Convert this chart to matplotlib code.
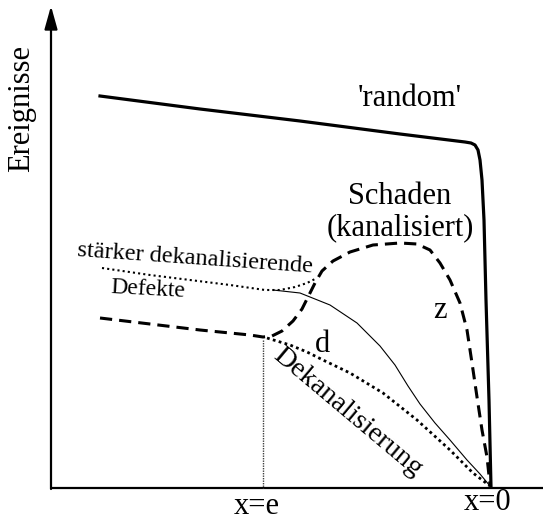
import matplotlib.pyplot as plt

plt.rcParams['font.family'] = ['Liberation Serif', 'DejaVu Serif']

# Kurven in Bildkoordinaten (x nach rechts, y nach unten), x=0 liegt bei 490
random_x = [100, 200, 300, 400, 465, 471, 475, 478, 480, 482, 484, 486, 489, 491]
random_y = [96, 109, 121, 134, 142, 143, 145, 150, 160, 180, 220, 300, 400, 487]

schaden_x = [100, 150, 200, 250, 263, 272, 282, 293, 302, 308, 315, 322, 333,
             350, 373, 400, 417, 430, 440, 450, 460, 467, 472, 477, 482, 487, 490]
schaden_y = [318, 324, 330, 335, 337, 336, 331, 321, 309, 297, 283, 271, 261,
             252, 245, 243, 244, 250, 263, 280, 303, 330, 363, 397, 430, 457, 485]

defekte_x = [102, 150, 190, 230, 265, 280, 295, 307, 317]
defekte_y = [268, 275, 280, 285, 290, 290, 287, 283, 278]

duenn_x = [273, 300, 330, 357, 380, 395, 408, 420, 435, 450, 467, 480, 490]
duenn_y = [290, 293, 305, 323, 346, 365, 386, 404, 423, 440, 460, 474, 486]

dekan_x = [267, 290, 307, 323, 350, 383, 417, 450, 473, 490]
dekan_y = [338, 345, 352, 360, 373, 393, 420, 450, 473, 486]

x_e = 263
y_achse = 488

fig = plt.figure(figsize=(5.43, 5.22), dpi=100)
ax = fig.add_axes([0, 0, 1, 1])
ax.set_xlim(0, 543)
ax.set_ylim(522, 0)
ax.axis('off')

# Achsen
ax.plot([51, 543], [y_achse, y_achse], color='k', lw=1.6, solid_capstyle='butt')
ax.annotate('', xy=(51, 6), xytext=(51, y_achse + 1),
            arrowprops=dict(arrowstyle='-|>,head_length=1.0,head_width=0.28',
                            lw=1.6, color='k', shrinkA=0, shrinkB=0,
                            mutation_scale=14))

ax.plot(random_x, random_y, color='k', lw=2.3, solid_joinstyle='round')
ax.plot(schaden_x, schaden_y, color='k', lw=2.2, dashes=(4, 2.3))
ax.plot(defekte_x, defekte_y, color='k', lw=1.5, dashes=(1, 1.5))
ax.plot(duenn_x, duenn_y, color='k', lw=0.8)
ax.plot(dekan_x, dekan_y, color='k', lw=2.0, dashes=(1, 1.2))
ax.plot([x_e, x_e], [340, y_achse], color='0.25', lw=1.0, dashes=(1, 0.8))

big = 22
ax.text(22, 108, 'Ereignisse', rotation=90, fontsize=big, ha='center', va='center')
ax.text(410, 98, "'random'", fontsize=big, ha='center', va='center')
ax.text(400, 196, 'Schaden', fontsize=big, ha='center', va='center')
ax.text(400, 228, '(kanalisiert)', fontsize=big, ha='center', va='center')
ax.text(195, 259, 'stärker dekanalisierende', fontsize=17.5, rotation=-4,
        ha='center', va='center', rotation_mode='anchor')
ax.text(148, 289, 'Defekte', fontsize=17, rotation=-3,
        ha='center', va='center', rotation_mode='anchor')
ax.text(440, 310, 'z', fontsize=big, ha='center', va='center')
ax.text(322, 345, 'd', fontsize=big, ha='center', va='center')
ax.text(348, 412, 'Dekanalisierung', fontsize=20.5, rotation=-40,
        ha='center', va='center', rotation_mode='anchor')
ax.text(257, 507, 'x=e', fontsize=big, ha='center', va='center')
ax.text(488, 503, 'x=0', fontsize=big, ha='center', va='center')

fig.savefig('out.png', dpi=100)
